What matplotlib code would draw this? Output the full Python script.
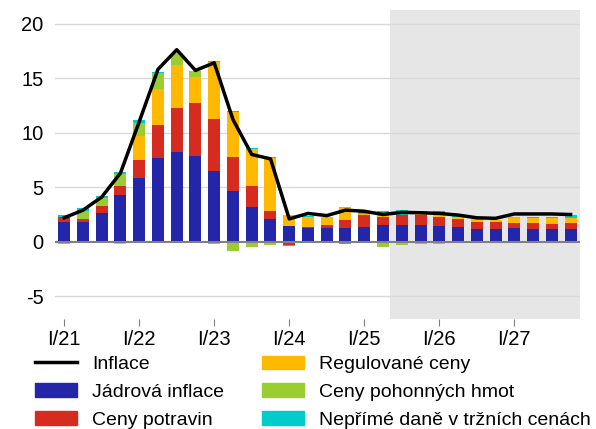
import numpy as np
import matplotlib
matplotlib.use("Agg")
from matplotlib import pyplot as plt
from matplotlib.patches import Patch
from matplotlib.lines import Line2D

plt.rcParams['font.family'] = ['Liberation Sans', 'DejaVu Sans']

# quarters I/21 .. IV/27
years = ['21', '22', '23', '24', '25', '26', '27']
quarters = [q + '/' + y for y in years for q in ['I', 'II', 'III', 'IV']]

inflace = [2.2, 2.9, 4.1, 6.3, 11.0, 15.8, 17.6, 15.7, 16.4, 11.2, 8.0, 7.6,
           2.1, 2.6, 2.4, 2.9, 2.8, 2.5, 2.7, 2.66, 2.6, 2.45, 2.2, 2.15,
           2.55, 2.55, 2.55, 2.5]
jadrova = [1.8, 1.8, 2.63, 4.28, 5.83, 7.66, 8.24, 7.85, 6.5, 4.67, 3.18, 2.08,
           1.47, 1.3, 1.28, 1.25, 1.35, 1.53, 1.53, 1.53, 1.44, 1.35, 1.16, 1.16,
           1.28, 1.19, 1.16, 1.16]
potraviny = [0.43, 0.28, 0.64, 0.85, 1.65, 3.03, 4.03, 4.88, 4.74, 3.11, 1.92, 0.73,
             -0.27, 0.07, 0.28, 0.74, 1.09, 0.76, 0.94, 0.91, 0.85, 0.73, 0.67, 0.64,
             0.46, 0.55, 0.46, 0.58]
regulovane = [0.0, -0.1, 0.0, -0.2, 2.23, 3.29, 3.91, 2.38, 5.19, 4.12, 3.36, 4.85,
              0.95, 0.89, 0.7, 1.07, 0.12, 0.25, 0.0, 0.1, 0.12, 0.21, 0.22, 0.19,
              0.46, 0.46, 0.58, 0.46]
pohonne = [-0.2, 0.73, 0.7, 1.07, 1.16, 1.5, 1.16, 0.52, -0.2, -0.82, -0.5, -0.27,
           0.05, 0.05, 0.0, 0.1, -0.15, -0.46, -0.27, -0.18, -0.2, 0.0, -0.1, -0.15,
           0.1, 0.0, 0.0, 0.0]
dane = [0.2, 0.25, 0.21, 0.18, 0.27, 0.09, -0.1, 0.05, 0.09, 0.1, 0.12, 0.12,
        -0.08, 0.03, -0.15, -0.24, 0.3, 0.3, 0.43, 0.27, 0.37, 0.1, 0.0, 0.0,
        0.0, 0.1, 0.1, 0.21]

components = [
    ('Jádrová inflace', jadrova, '#2326A8'),
    ('Ceny potravin', potraviny, '#D62C20'),
    ('Regulované ceny', regulovane, '#FFB900'),
    ('Ceny pohonných hmot', pohonne, '#9ACD32'),
    ('Nepřímé daně v tržních cenách', dane, '#00CCCC'),
]

fig = plt.figure(figsize=(5.96, 4.29), dpi=100)
ax = fig.add_axes([0.092, 0.257, 0.881, 0.72])

x = np.arange(len(quarters))
# forecast period shading
ax.axvspan(17.35, 27.6, color='#E6E6E6', lw=0, zorder=0)
for v in [-5, 5, 10, 15, 20]:
    ax.axhline(v, color='#D9D9D9', lw=1, zorder=1)

# stack positives up and negatives down, like the original
pos = np.zeros(len(x))
neg = np.zeros(len(x))
for name, vals, col in components:
    vals = np.array(vals)
    bottom = np.where(vals >= 0, pos, neg)
    ax.bar(x, vals, 0.64, bottom=bottom, color=col, lw=0, zorder=2)
    pos = pos + np.clip(vals, 0, None)
    neg = neg + np.clip(vals, None, 0)

ax.axhline(0, color='#808080', lw=1.5, zorder=3)
ax.plot(x, inflace, color='black', lw=2.5, zorder=4)

ax.set_xlim(-0.5, 27.5)
ax.set_ylim(-7.05, 21.25)
ax.set_yticks([-5, 0, 5, 10, 15, 20])
ax.set_yticklabels(['-5', '0', '5', '10', '15', '20'])
ax.set_xticks(x[::4])
ax.set_xticklabels(['I/' + y for y in years])
ax.tick_params(axis='y', length=0, pad=8, labelsize=14.5)
ax.tick_params(axis='x', length=5, color='#808080', pad=3, labelsize=14.5)
for s in ax.spines.values():
    s.set_visible(False)

handles = [Line2D([], [], color='black', lw=2.5, label='Inflace')]
handles += [Patch(color=col, label=name) for name, vals, col in components]
fig.legend(handles=handles, loc='upper left', bbox_to_anchor=(0.059, 0.171),
           ncol=2, frameon=False, fontsize=14, handlelength=2.16,
           handleheight=0.7, handletextpad=0.77, labelspacing=0.52,
           columnspacing=1.95, borderaxespad=0, borderpad=0)

fig.savefig('out.png', dpi=100)
